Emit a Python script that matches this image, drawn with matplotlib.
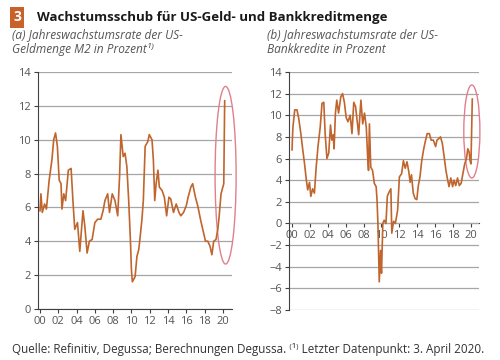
import matplotlib.pyplot as plt
from matplotlib.patches import Ellipse

# ---------------------------------------------
# DATA
# ---------------------------------------------

# (a) M2 growth rate, percent
m2_years = [2000.0, 2000.1, 2000.25, 2000.5, 2000.7, 2001.0, 2001.3, 2001.5, 2001.7, 2001.9,
            2002.1, 2002.3, 2002.4, 2002.6, 2002.8, 2003.1, 2003.4, 2003.6, 2003.8, 2004.1,
            2004.35, 2004.7, 2004.9, 2005.15, 2005.4, 2005.7, 2006.0, 2006.3, 2006.65, 2006.9,
            2007.1, 2007.4, 2007.6, 2007.9, 2008.2, 2008.5, 2008.7, 2008.85, 2009.1, 2009.3,
            2009.5, 2009.7, 2009.9, 2010.0, 2010.1, 2010.4, 2010.6, 2010.8, 2011.0, 2011.15,
            2011.3, 2011.5, 2011.8, 2011.95, 2012.25, 2012.4, 2012.55, 2012.7, 2012.9, 2013.05,
            2013.35, 2013.6, 2013.85, 2014.1, 2014.3, 2014.6, 2014.9, 2015.2, 2015.4, 2015.7,
            2016.0, 2016.2, 2016.5, 2016.7, 2017.0, 2017.25, 2017.55, 2017.8, 2018.1, 2018.35,
            2018.6, 2018.8, 2019.0, 2019.25, 2019.45, 2019.6, 2019.8, 2020.0, 2020.1, 2020.2]
m2_values = [5.8, 6.8, 5.7, 6.2, 5.9, 7.6, 8.8, 10.0, 10.4, 9.6,
             7.6, 7.4, 5.9, 6.8, 6.4, 8.2, 8.3, 6.4, 4.7, 5.1,
             3.4, 5.8, 4.9, 3.3, 4.0, 4.1, 5.1, 5.3, 5.3, 5.8,
             6.4, 6.8, 5.7, 6.8, 6.4, 5.5, 7.8, 10.3, 9.0, 9.2,
             8.4, 6.4, 3.9, 2.3, 1.6, 1.9, 3.1, 3.5, 4.5, 5.3,
             6.4, 9.6, 9.9, 10.3, 10.0, 8.8, 6.4, 7.4, 8.2, 7.2,
             7.0, 6.6, 5.5, 6.6, 6.5, 5.7, 6.2, 5.7, 5.5, 5.7,
             6.1, 6.6, 7.2, 7.4, 6.6, 6.1, 5.3, 4.7, 4.0, 4.0,
             3.7, 3.2, 4.0, 4.1, 4.7, 5.5, 6.8, 7.2, 7.4, 12.3]

# (b) bank credit growth rate, percent
bk_years = [2000.0, 2000.05, 2000.1, 2000.3, 2000.55, 2000.75, 2001.0, 2001.2, 2001.4, 2001.6,
            2001.75, 2001.95, 2002.1, 2002.3, 2002.5, 2002.7, 2002.9, 2003.15, 2003.35, 2003.55,
            2003.7, 2003.9, 2004.1, 2004.3, 2004.45, 2004.6, 2004.7, 2004.85, 2005.0, 2005.2,
            2005.3, 2005.45, 2005.65, 2005.85, 2006.05, 2006.25, 2006.5, 2006.7, 2006.9, 2007.1,
            2007.25, 2007.45, 2007.6, 2007.7, 2007.9, 2008.1, 2008.3, 2008.45, 2008.55, 2008.65,
            2008.8, 2009.0, 2009.2, 2009.4, 2009.5, 2009.6, 2009.75, 2009.9, 2010.0, 2010.15,
            2010.3, 2010.5, 2010.65, 2010.85, 2011.05, 2011.15, 2011.35, 2011.55, 2011.8, 2012.0,
            2012.25, 2012.45, 2012.65, 2012.85, 2013.05, 2013.2, 2013.35, 2013.55, 2013.75, 2013.95,
            2014.1, 2014.3, 2014.5, 2014.7, 2014.85, 2015.1, 2015.35, 2015.55, 2015.8, 2016.05,
            2016.2, 2016.35, 2016.6, 2016.8, 2017.0, 2017.2, 2017.4, 2017.55, 2017.75, 2017.95,
            2018.1, 2018.3, 2018.5, 2018.7, 2018.9, 2019.1, 2019.3, 2019.5, 2019.65, 2019.8,
            2019.9, 2020.0, 2020.15]
bk_values = [6.8, 8.0, 8.9, 10.5, 10.5, 9.7, 8.2, 6.8, 5.5, 4.0,
             3.1, 3.8, 2.5, 3.2, 2.8, 5.2, 7.1, 8.9, 11.1, 11.2,
             8.3, 6.0, 6.5, 9.1, 7.7, 8.2, 6.9, 10.2, 11.4, 10.2,
             10.8, 11.7, 12.0, 11.2, 9.8, 9.4, 10.0, 8.3, 11.2, 10.8,
             9.7, 8.2, 10.2, 11.4, 9.2, 10.2, 8.9, 6.2, 4.9, 9.2,
             5.2, 4.9, 3.7, 3.4, 2.2, 0.0, -5.4, -2.5, -4.6, 0.0,
             0.3, 0.0, 2.5, 2.9, 3.2, -0.9, 0.2, 0.0, 1.2, 4.3,
             4.6, 5.8, 5.1, 5.7, 4.8, 3.8, 4.5, 2.8, 2.3, 2.2,
             3.4, 4.3, 5.8, 6.8, 7.4, 8.3, 8.3, 7.7, 7.7, 7.1,
             7.7, 7.8, 8.0, 7.4, 6.2, 4.9, 4.0, 3.4, 4.2, 3.4,
             4.0, 3.5, 4.2, 3.5, 3.7, 4.6, 5.5, 6.0, 6.9, 6.6,
             5.8, 5.5, 11.5]

year_ticks = list(range(2000, 2021, 2))
year_labels = ["%02d" % (y % 100) for y in year_ticks]

LINE = "#c0652d"
RING = "#e0808c"
GRID = "#a6a6a6"
TXT = "#555555"
DARK = "#404040"
FONT = ["Open Sans", "DejaVu Sans"]

plt.rcParams["font.family"] = FONT

fig = plt.figure(figsize=(5, 3.6), dpi=100)
ax1 = fig.add_axes([0.076, 0.142, 0.388, 0.658])
ax2 = fig.add_axes([0.578, 0.139, 0.380, 0.661])


def style_x(axis):
    axis.set_xticks(year_ticks)
    axis.set_xticklabels(year_labels)
    axis.tick_params(axis="x", colors=DARK, labelcolor=TXT, labelsize=8,
                     length=3, width=0.8, pad=2)


def style(ax, ymin, ymax):
    ax.set_ylim(ymin, ymax)
    ax.set_yticks(range(ymin, ymax + 1, 2))
    ax.yaxis.grid(True, color=GRID, lw=0.9)
    ax.set_axisbelow(True)
    for s in ("top", "right"):
        ax.spines[s].set_visible(False)
    ax.spines["left"].set_color(DARK)
    ax.spines["bottom"].set_color(DARK)
    ax.tick_params(axis="y", colors=DARK, labelcolor=TXT, labelsize=8,
                   length=3, width=0.8, pad=2)


ax1.plot(m2_years, m2_values, color=LINE, lw=1.2)
ax1.set_xlim(1999.78, 2021.0)
style(ax1, 0, 14)
style_x(ax1)
ax1.add_patch(Ellipse((2020.3, 7.9), 2.3, 10.5, fill=False, ec=RING, lw=1.0, clip_on=False))

ax2.plot(bk_years, bk_values, color=LINE, lw=1.2)
ax2.set_xlim(1999.66, 2020.9)
style(ax2, -8, 14)
# x axis of panel (b) sits on the zero line
ax2.spines["bottom"].set_visible(False)
ax2.set_xticks([])
zero_axis = ax2.secondary_xaxis(8 / 22)
zero_axis.spines["bottom"].set_color(DARK)
style_x(zero_axis)
ax2.add_patch(Ellipse((2020.1, 8.5), 1.8, 8.6, fill=False, ec=RING, lw=1.0, clip_on=False))

# headings
fig.text(0.026, 0.952, "3", color="white", fontsize=10, fontweight="bold", va="center",
         bbox=dict(boxstyle="square,pad=0.25", fc="#c8622a", ec="none"))
fig.text(0.074, 0.952, "Wachstumsschub für US-Geld- und Bankkreditmenge",
         fontsize=9.5, fontweight="bold", va="center", color="#1a1a1a")
fig.text(0.024, 0.905, "(a) Jahreswachstumsrate der US-", fontsize=8.6, style="italic",
         color=TXT, va="center")
fig.text(0.024, 0.862, "Geldmenge M2 in Prozent¹⁾", fontsize=8.6, style="italic",
         color=TXT, va="center")
fig.text(0.534, 0.905, "(b) Jahreswachstumsrate der US-", fontsize=8.6, style="italic",
         color=TXT, va="center")
fig.text(0.534, 0.862, "Bankkredite in Prozent", fontsize=8.6, style="italic",
         color=TXT, va="center")
fig.text(0.024, 0.03, "Quelle: Refinitiv, Degussa; Berechnungen Degussa. ⁽¹⁾ Letzter Datenpunkt: 3. April 2020.",
         fontsize=8.4, color="#333333", va="center")

fig.savefig("out.png", dpi=100)
